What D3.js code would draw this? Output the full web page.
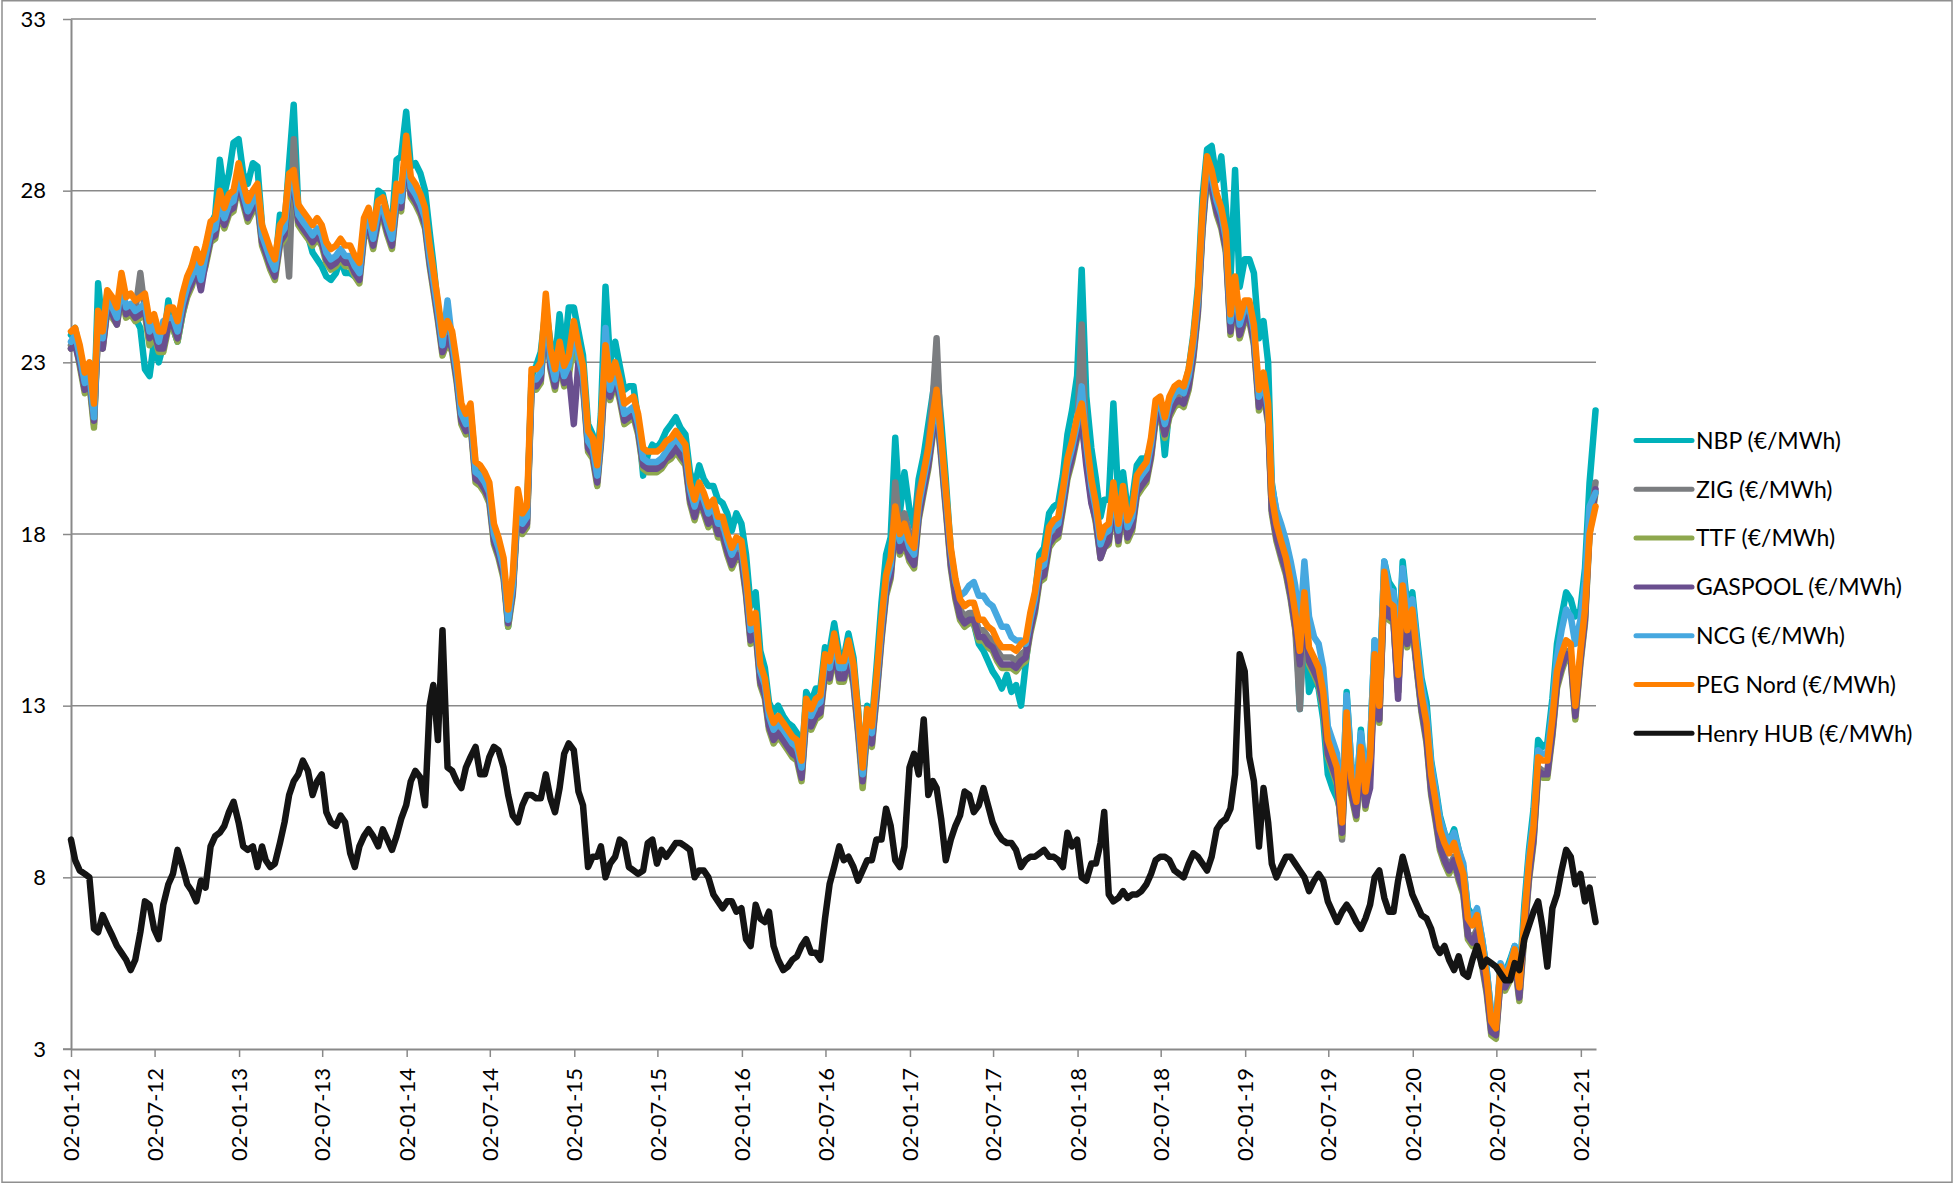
<!DOCTYPE html>
<html>
<head>
<meta charset="utf-8">
<script src="https://cdn.jsdelivr.net/npm/d3@7"></script>
<style>
  body { margin: 0; background: #fff; }
  svg text { font-family: Lato, "Open Sans", sans-serif; fill: #000; }
</style>
</head>
<body>
<div id="chart"></div>
<script>
const sampleYears = [2012, 2013, 2014, 2015, 2016, 2017, 2018, 2019, 2020];
const sampleDays = [1, 11, 21];
const lastDates = ["2021-01-01", "2021-01-11", "2021-01-21", "2021-02-03"];

const tickLabels = ["02-01-12", "02-07-12", "02-01-13", "02-07-13", "02-01-14", "02-07-14",
  "02-01-15", "02-07-15", "02-01-16", "02-07-16", "02-01-17", "02-07-17", "02-01-18",
  "02-07-18", "02-01-19", "02-07-19", "02-01-20", "02-07-20", "02-01-21"];
const yTicks = [3, 8, 13, 18, 23, 28, 33];

const seriesNames = ["NBP (€/MWh)", "ZIG (€/MWh)", "TTF (€/MWh)", "GASPOOL (€/MWh)",
  "NCG (€/MWh)", "PEG Nord (€/MWh)", "Henry HUB (€/MWh)"];
const seriesColors = ["#00b1ba", "#7b7d80", "#8ea84e", "#6a4f8f", "#46a8e0", "#ff8000", "#141414"];

const nbp = [
  23.8,24.0,23.3, 22.6,22.8,21.5, 25.3,24.0,25.0, 24.5,24.3,25.2, 24.5,24.6,24.3, 24.0,22.8,22.6, 23.6,23.0,23.5, 24.8,24.0,23.6, 24.4,25.0,25.8, 26.0,25.7,26.3, 27.0,27.3,28.9, 27.9,28.5,29.4,
  29.5,28.5,28.2, 28.8,28.7,27.0, 26.3,25.8,25.7, 27.3,27.0,28.8, 30.5,27.5,27.0, 26.7,26.2,26.0, 25.8,25.5,25.4, 25.6,26.0,25.6, 25.6,25.5,25.5, 27.0,27.4,26.6, 28.0,27.9,27.3, 27.0,28.9,29.0,
  30.3,28.7,28.8, 28.5,28.0,26.8, 25.9,24.6,23.9, 24.1,23.8,22.7, 21.7,21.4,21.6, 20.0,19.8,19.6, 19.3,18.1,17.6, 17.0,15.3,16.4, 18.9,18.3,18.6, 22.6,22.9,23.3, 24.6,23.6,23.0, 24.4,23.2,24.6,
  24.6,23.9,23.2, 21.2,20.9,20.1, 21.5,25.2,23.0, 23.6,22.9,22.2, 22.3,22.3,21.3, 19.7,20.3,20.6, 20.5,20.7,21.0, 21.2,21.4,21.1, 20.9,19.8,19.4, 20.0,19.6,19.4, 19.4,19.0,18.9, 18.6,18.1,18.6,
  18.3,17.4,15.9, 16.3,14.6,14.1, 13.1,12.8,13.0, 12.7,12.5,12.4, 12.2,11.3,13.4, 13.1,13.5,13.5, 14.7,14.6,15.4, 14.5,14.4,15.1, 14.4,12.9,11.0, 13.0,12.5,14.1, 16.0,17.4,17.9, 20.8,18.6,19.8,
  18.7,18.2,19.6, 20.3,21.2,22.1, 22.8,21.3,19.6, 17.5,16.5,15.8, 15.5,15.6,15.4, 14.8,14.6,14.3, 14.0,13.8,13.5, 13.9,13.4,13.6, 13.0,14.2,15.4, 16.2,17.4,17.6, 18.6,18.8,18.9, 19.7,20.9,21.6,
  22.6,25.7,22.0, 20.5,19.6,18.5, 19.0,19.0,21.8, 19.0,19.8,18.7, 19.0,20.0,20.2, 20.2,20.6,21.7, 21.8,20.3,21.7, 22.2,22.3,22.2, 22.8,23.8,25.2, 27.8,29.2,29.3, 28.3,29.0,27.5, 25.4,28.6,25.2,
  26.0,26.0,25.6, 23.7,24.2,23.0, 19.5,18.6,18.2, 17.6,16.9,16.0, 12.9,16.0,13.4, 13.8,13.5,12.6, 11.0,10.6,10.3, 9.8,13.4,11.3, 10.4,12.3,10.8, 11.8,14.9,13.4, 17.2,16.6,16.4, 14.4,17.2,15.9,
  16.3,15.0,13.8, 13.1,11.4,10.6, 9.8,9.3,9.0, 9.4,8.8,8.3, 7.1,6.9,7.0, 6.2,5.3,4.0, 3.8,5.3,5.2, 5.6,6.0,5.0, 7.2,8.8,10.0, 12.0,11.8,11.9, 13.2,14.8,15.6, 16.3,16.1,15.6,
  15.8,17.0,19.5,21.6
];

const zig = [
  23.5,23.7,23.0, 22.2,22.5,21.2, 24.0,23.5,24.6, 24.4,24.2,25.0, 24.5,24.6,24.5, 25.6,24.5,23.6, 24.0,23.4,23.4, 24.2,24.2,23.9, 24.6,25.1,25.4, 25.9,25.5,26.0, 26.6,26.8,27.5, 27.1,27.5,27.6,
  28.4,27.8,27.3, 27.6,27.7,26.6, 26.2,25.9,25.6, 26.6,27.0,25.5, 29.5,27.2,27.0, 26.8,26.6,26.8, 26.6,26.0,25.8, 26.0,26.2,26.0, 26.0,25.7,25.5, 26.8,27.1,26.5, 27.3,27.4,26.9, 26.5,27.8,27.6,
  29.0,28.0,27.8, 27.5,27.1,26.0, 25.3,24.4,23.4, 23.8,23.5,22.6, 21.4,21.1,21.4, 19.7,19.6,19.4, 19.1,17.9,17.5, 16.9,15.5,16.4, 18.9,18.2,18.4, 22.4,22.4,22.6, 24.6,23.0,22.4, 23.2,22.5,22.8,
  23.8,23.1,22.5, 20.6,20.4,19.6, 20.8,23.1,22.1, 22.6,22.1,21.4, 21.5,21.6,21.1, 20.1,20.0,20.0, 20.0,20.1,20.3, 20.4,20.6,20.4, 20.2,19.1,18.6, 19.1,18.8,18.4, 18.6,18.1,18.1, 17.6,17.2,17.5,
  17.4,16.4,15.0, 15.3,13.8,13.4, 12.5,12.1,12.3, 12.1,11.9,11.7, 11.6,11.0,12.8, 12.5,12.8,12.9, 14.1,13.9,14.7, 13.9,13.9,14.5, 13.8,12.4,10.8, 12.5,12.0,13.4, 15.1,16.4,16.9, 19.5,18.0,18.6,
  18.0,17.8,19.2, 19.8,20.6,22.0, 23.7,20.6,19.0, 17.3,16.4,15.8, 15.6,15.7,15.7, 15.2,15.2,15.0, 14.9,14.6,14.4, 14.4,14.4,14.3, 14.5,14.6,15.4, 16.0,16.9,17.0, 17.9,18.1,18.2, 19.0,19.9,20.4,
  21.0,24.1,20.4, 19.2,18.5,17.5, 17.8,17.9,19.1, 17.9,19.0,18.0, 18.3,19.3,19.5, 19.7,20.4,21.5, 21.6,21.0,21.6, 21.9,22.0,21.9, 22.4,23.3,24.6, 27.0,28.6,28.2, 27.5,27.1,26.4, 24.0,25.1,23.9,
  24.4,24.4,23.7, 21.8,22.3,21.4, 18.7,17.9,17.4, 16.9,16.2,15.3, 12.9,15.7,14.3, 14.0,13.7,13.0, 11.6,11.2,10.8, 9.1,12.4,10.5, 9.8,11.4,10.1, 11.1,14.1,12.6, 16.5,15.6,15.5, 13.4,16.1,14.8,
  15.4,14.1,12.9, 12.1,10.6,9.8, 9.0,8.6,8.3, 8.6,8.1,7.7, 6.4,6.2,6.5, 5.6,4.8,3.6, 3.5,5.1,4.8, 5.1,5.6,4.6, 6.5,8.1,9.2, 11.2,11.1,11.1, 12.3,13.7,14.2, 14.6,14.5,12.8,
  14.4,15.6,18.3,19.5
];

const ttf = [
  23.4,23.6,22.9, 22.1,22.4,21.1, 24.0,23.4,24.5, 24.3,24.1,24.9, 24.3,24.4,24.2, 24.3,24.4,23.5, 23.8,23.3,23.3, 24.0,24.0,23.6, 24.4,24.9,25.2, 25.7,25.4,25.8, 26.5,26.6,27.4, 26.9,27.3,27.4,
  28.2,27.6,27.1, 27.4,27.6,26.4, 26.1,25.7,25.4, 26.4,26.6,27.9, 28.0,27.0,26.8, 26.6,26.4,26.6, 26.4,25.9,25.7, 25.8,26.0,25.8, 25.8,25.5,25.3, 26.6,26.9,26.3, 27.1,27.2,26.7, 26.3,27.6,27.4,
  29.0,27.8,27.6, 27.3,26.9,25.8, 25.1,24.2,23.2, 23.6,23.3,22.4, 21.2,20.9,21.2, 19.5,19.4,19.2, 18.9,17.7,17.3, 16.7,15.3,16.2, 18.7,18.0,18.2, 22.2,22.2,22.4, 24.4,22.8,22.2, 23.0,22.3,22.6,
  23.6,22.9,22.3, 20.4,20.2,19.4, 20.6,22.9,21.9, 22.4,21.9,21.2, 21.3,21.4,20.9, 19.9,19.8,19.8, 19.8,19.9,20.1, 20.2,20.4,20.2, 20.0,18.9,18.4, 18.9,18.6,18.2, 18.4,17.9,17.9, 17.4,17.0,17.3,
  17.2,16.2,14.8, 15.1,13.6,13.2, 12.3,11.9,12.1, 11.9,11.7,11.5, 11.4,10.8,12.6, 12.3,12.6,12.7, 13.9,13.7,14.5, 13.7,13.7,14.3, 13.6,12.2,10.6, 12.3,11.8,13.2, 14.9,16.2,16.7, 18.2,17.4,17.7,
  17.2,17.0,18.4, 19.2,19.9,20.9, 21.6,20.2,18.7, 17.0,16.1,15.5, 15.3,15.4,15.4, 14.9,14.9,14.7, 14.6,14.3,14.1, 14.1,14.1,14.0, 14.2,14.3,15.1, 15.7,16.6,16.7, 17.6,17.8,17.9, 18.7,19.6,20.1,
  20.8,21.2,20.2, 19.0,18.3,17.3, 17.6,17.7,18.9, 17.7,18.8,17.8, 18.1,19.1,19.3, 19.5,20.2,21.3, 21.4,20.8,21.4, 21.7,21.8,21.7, 22.2,23.1,24.4, 26.8,28.4,28.0, 27.3,26.9,26.2, 23.8,24.9,23.7,
  24.2,24.2,23.5, 21.6,22.1,21.2, 18.6,17.8,17.3, 16.8,16.1,15.2, 14.2,15.8,14.2, 13.9,13.6,12.9, 11.5,11.1,10.7, 9.2,12.3,10.4, 9.7,11.3,10.0, 11.0,14.0,12.5, 16.4,15.5,15.4, 13.4,16.0,14.7,
  15.3,14.0,12.8, 11.9,10.4,9.6, 8.8,8.4,8.1, 8.4,7.9,7.5, 6.2,6.0,6.3, 5.4,4.6,3.4, 3.3,5.0,4.7, 5.0,5.5,4.4, 6.3,7.9,9.0, 11.0,10.9,10.9, 12.1,13.5,14.0, 14.4,14.3,12.6,
  14.2,15.4,18.0,19.2
];

const gaspool = [
  23.4,23.5,23.0, 22.2,22.5,21.3, 24.0,23.4,24.6, 24.4,24.1,25.1, 24.4,24.5,24.3, 24.4,24.5,23.7, 23.9,23.4,23.4, 24.1,24.1,23.7, 24.5,25.0,25.3, 25.7,25.1,25.9, 26.6,26.7,27.5, 27.0,27.4,27.5,
  28.3,27.7,27.2, 27.5,27.7,26.5, 26.2,25.8,25.5, 26.5,26.7,28.0, 28.1,27.1,26.9, 26.7,26.5,26.7, 26.5,26.0,25.8, 25.9,26.1,25.9, 25.9,25.6,25.4, 26.7,27.0,26.4, 27.2,27.3,26.8, 26.4,27.7,27.5,
  29.1,27.9,27.7, 27.4,27.0,25.9, 25.2,24.3,23.3, 23.7,23.4,22.5, 21.3,21.0,21.3, 19.6,19.5,19.3, 19.0,17.8,17.4, 16.8,15.4,16.3, 18.8,18.1,18.3, 22.3,22.3,22.5, 24.5,22.9,22.3, 23.1,22.4,22.7,
  21.2,23.0,22.4, 20.5,20.3,19.5, 20.7,23.0,22.0, 22.5,22.0,21.3, 21.4,21.5,21.0, 20.0,19.9,19.9, 19.9,20.0,20.2, 20.3,20.5,20.3, 20.1,19.0,18.5, 19.0,18.7,18.3, 18.5,18.0,18.0, 17.5,17.1,17.4,
  17.3,16.3,14.9, 15.2,13.7,13.3, 12.4,12.0,12.2, 12.0,11.8,11.6, 11.5,10.9,12.7, 12.4,12.7,12.8, 14.0,13.8,14.6, 13.8,13.8,14.4, 13.7,12.3,10.8, 12.4,11.9,13.3, 15.0,16.3,16.8, 18.3,17.5,17.8,
  17.3,17.1,18.5, 19.3,20.0,21.0, 21.7,20.3,18.8, 17.1,16.2,15.6, 15.4,15.5,15.5, 15.0,15.0,14.8, 14.7,14.4,14.2, 14.2,14.2,14.1, 14.3,14.4,15.2, 15.8,16.7,16.8, 17.7,17.9,18.0, 18.8,19.7,20.2,
  20.9,21.3,20.0, 18.9,18.4,17.3, 17.6,17.8,19.0, 17.8,18.9,17.9, 18.2,19.2,19.4, 19.6,20.3,21.4, 21.5,20.9,21.5, 21.8,21.9,21.8, 22.3,23.2,24.5, 26.9,28.5,28.1, 27.4,27.0,26.3, 23.9,25.0,23.8,
  24.3,24.3,23.6, 21.7,22.2,21.3, 18.7,17.9,17.4, 16.9,16.2,15.3, 14.2,15.8,14.3, 14.0,13.7,13.0, 11.6,11.2,10.8, 9.3,12.4,10.5, 9.8,11.4,10.1, 10.6,14.1,12.6, 16.5,15.6,15.5, 13.2,16.1,14.8,
  15.4,14.1,12.9, 12.0,10.5,9.7, 8.9,8.5,8.2, 8.5,8.0,7.6, 6.3,6.1,6.4, 5.5,4.7,3.5, 3.4,5.0,4.8, 5.1,5.6,4.5, 6.4,8.0,9.1, 11.1,11.0,11.0, 12.2,13.6,14.1, 14.5,14.4,12.7,
  14.3,15.5,18.1,19.3
];

const ncg = [
  23.6,23.8,23.2, 22.4,22.7,21.4, 24.2,23.7,24.8, 24.6,24.3,25.3, 24.6,24.7,24.5, 24.6,24.7,23.9, 24.1,23.6,24.2, 24.3,24.3,23.9, 24.7,25.2,25.5, 25.9,25.4,26.1, 26.8,26.9,27.7, 27.2,27.6,27.7,
  28.5,27.9,27.4, 27.7,27.9,26.7, 26.4,26.0,25.7, 26.7,26.9,28.2, 28.3,27.3,27.1, 26.9,26.7,26.9, 26.7,26.2,26.0, 26.1,26.3,26.1, 26.1,25.8,25.6, 26.9,27.2,26.6, 27.4,27.5,27.0, 26.6,27.9,27.7,
  29.3,28.1,27.9, 27.6,27.2,26.1, 25.4,24.5,23.5, 24.8,23.6,22.7, 21.5,21.2,21.5, 19.8,19.7,19.5, 19.2,18.0,17.6, 17.0,15.5,16.5, 19.0,18.3,18.5, 22.5,22.5,22.7, 24.7,23.1,22.5, 23.3,22.6,22.9,
  23.9,23.2,22.6, 20.7,20.5,19.7, 20.9,24.0,22.2, 22.7,22.2,21.5, 21.6,21.7,21.2, 20.2,20.1,20.1, 20.1,20.2,20.4, 20.6,20.8,20.6, 20.4,19.3,18.8, 19.3,19.0,18.6, 18.8,18.3,18.3, 17.8,17.4,17.7,
  17.6,16.6,15.2, 15.5,14.0,13.6, 12.7,12.3,12.5, 12.3,12.1,11.9, 11.8,11.2,13.0, 12.7,13.0,13.1, 14.3,14.1,14.9, 14.1,14.1,14.7, 14.0,12.6,11.0, 12.7,12.2,13.6, 15.3,16.6,17.1, 18.6,17.8,18.1,
  17.6,17.4,18.8, 19.6,20.3,21.3, 22.0,20.6,19.1, 17.5,16.6,16.2, 16.3,16.5,16.6, 16.2,16.2,16.0, 15.9,15.6,15.3, 15.3,15.0,14.9, 14.9,14.8,15.5, 16.1,17.0,17.1, 18.0,18.2,18.3, 19.1,20.0,20.5,
  21.2,22.3,20.6, 19.4,18.7,17.7, 18.0,18.1,19.3, 18.1,19.2,18.2, 18.5,19.5,19.7, 19.9,20.6,21.7, 21.8,21.2,21.8, 22.1,22.2,22.1, 22.6,23.5,24.8, 27.2,28.8,28.4, 27.7,27.3,26.6, 24.2,25.3,24.1,
  24.6,24.6,23.9, 22.0,22.5,21.6, 19.4,18.7,18.3, 17.8,17.2,16.5, 15.2,17.2,15.6, 15.0,14.8,14.1, 12.4,12.0,11.6, 9.9,13.3,11.3, 10.5,12.2,10.8, 11.8,14.9,13.3, 17.2,16.4,16.3, 14.2,17.0,15.7,
  16.1,14.8,13.6, 12.8,11.3,10.5, 9.7,9.3,9.0, 9.3,8.8,8.4, 7.0,6.8,7.1, 6.2,5.3,4.0, 3.7,5.5,5.2, 5.5,6.0,4.9, 6.9,8.6,9.7, 11.7,11.6,11.6, 12.9,14.4,15.2, 15.8,15.6,14.8,
  15.5,16.6,18.8,19.2
];

const pegNord = [
  23.9,24.0,23.5, 22.7,23.0,21.8, 24.5,23.9,25.1, 24.9,24.6,25.6, 24.9,25.0,24.8, 24.9,25.0,24.2, 24.4,23.9,23.9, 24.6,24.6,24.2, 25.0,25.5,25.8, 26.3,25.9,26.4, 27.1,27.2,28.0, 27.5,27.9,28.0,
  28.8,28.2,27.7, 28.0,28.2,27.0, 26.7,26.3,26.0, 27.0,27.2,28.5, 28.6,27.6,27.4, 27.2,27.0,27.2, 27.0,26.5,26.3, 26.4,26.6,26.4, 26.4,26.1,25.9, 27.2,27.5,26.9, 27.7,27.8,27.3, 26.9,28.2,28.0,
  29.6,28.4,28.2, 27.9,27.5,26.4, 25.7,24.8,23.8, 24.2,23.9,23.0, 21.8,21.5,21.8, 20.1,20.0,19.8, 19.5,18.3,17.9, 17.3,15.8,16.8, 19.3,18.6,18.8, 22.8,22.8,23.0, 25.0,23.4,22.8, 23.6,22.9,23.2,
  24.2,23.5,22.9, 21.0,20.8,20.0, 21.2,23.5,22.5, 23.0,22.5,21.8, 21.9,22.0,21.5, 20.5,20.4,20.4, 20.4,20.5,20.7, 20.8,21.0,20.8, 20.6,19.5,19.0, 19.5,19.2,18.8, 19.0,18.5,18.5, 18.0,17.6,17.9,
  17.8,16.8,15.4, 15.7,14.2,13.8, 12.9,12.5,12.7, 12.5,12.3,12.1, 12.0,11.4,13.2, 12.9,13.2,13.3, 14.5,14.3,15.1, 14.3,14.3,14.9, 14.2,12.8,11.2, 12.9,12.4,13.8, 15.5,16.8,17.3, 18.8,18.0,18.3,
  17.8,17.6,19.0, 19.8,20.5,21.5, 22.2,20.8,19.3, 17.6,16.7,16.1, 15.9,16.0,16.0, 15.5,15.5,15.3, 15.2,14.9,14.7, 14.7,14.7,14.6, 14.8,14.9,15.7, 16.3,17.2,17.3, 18.2,18.4,18.5, 19.3,20.2,20.7,
  21.4,21.8,20.8, 19.6,18.9,17.9, 18.2,18.3,19.5, 18.3,19.4,18.4, 18.7,19.7,19.9, 20.1,20.8,21.9, 22.0,21.4,22.0, 22.3,22.4,22.3, 22.8,23.7,25.0, 27.4,29.0,28.6, 27.9,27.5,26.8, 24.4,25.5,24.3,
  24.8,24.8,24.1, 22.2,22.7,21.8, 19.1,18.3,17.8, 17.3,16.6,15.7, 14.6,16.3,14.7, 14.4,14.1,13.4, 12.0,11.6,11.2, 9.6,12.8,10.9, 10.2,11.8,10.5, 11.5,14.5,13.0, 16.9,16.0,15.9, 13.9,16.5,15.2,
  15.8,14.5,13.3, 12.5,11.0,10.2, 9.4,9.0,8.7, 9.0,8.5,8.1, 6.8,6.6,6.9, 6.0,5.1,3.8, 3.6,5.4,5.1, 5.4,5.9,4.8, 6.8,8.4,9.5, 11.5,11.4,11.4, 12.6,14.0,14.5, 14.9,14.8,13.0,
  14.6,15.8,18.0,18.8
];

const henryHub = [
  9.1,8.5,8.2, 8.1,8.0,6.5, 6.4,6.9,6.6, 6.3,6.0,5.8, 5.6,5.3,5.6, 6.4,7.3,7.2, 6.5,6.2,7.2, 7.8,8.1,8.8, 8.3,7.8,7.6, 7.3,7.9,7.7, 8.9,9.2,9.3, 9.5,9.9,10.2,
  9.6,8.9,8.8, 8.9,8.3,8.9, 8.5,8.3,8.4, 9.0,9.6,10.4, 10.8,11.0,11.4, 11.1,10.4,10.8, 11.0,9.9,9.6, 9.5,9.8,9.6, 8.7,8.3,8.9, 9.2,9.4,9.2, 8.9,9.4,9.1, 8.8,9.2,9.7,
  10.1,10.8,11.1, 10.9,10.1,13.0, 13.6,12.0,15.2, 11.2,11.1,10.8, 10.6,11.2,11.5, 11.8,11.0,11.0, 11.5,11.8,11.7, 11.2,10.4,9.8, 9.6,10.1,10.4, 10.4,10.3,10.3, 11.0,10.3,9.9, 10.6,11.6,11.9,
  11.7,10.5,10.1, 8.3,8.6,8.6, 8.9,8.0,8.4, 8.6,9.1,9.0, 8.3,8.2,8.1, 8.2,9.0,9.1, 8.4,8.8,8.6, 8.8,9.0,9.0, 8.9,8.8,8.0, 8.2,8.2,8.0, 7.5,7.3,7.1, 7.3,7.3,7.0,
  7.1,6.2,6.0, 7.2,6.8,6.7, 7.0,6.0,5.6, 5.3,5.4,5.6, 5.7,6.0,6.2, 5.8,5.8,5.6, 6.8,7.8,8.3, 8.9,8.5,8.6, 8.3,7.9,8.2, 8.5,8.5,9.1, 9.1,10.0,9.5, 8.5,8.3,8.9,
  11.2,11.6,11.0, 12.6,10.4,10.8, 10.6,9.7,8.5, 9.1,9.5,9.8, 10.5,10.4,9.9, 10.1,10.6,10.1, 9.6,9.3,9.1, 9.0,9.0,8.8, 8.3,8.5,8.6, 8.6,8.7,8.8, 8.6,8.6,8.5, 8.3,9.3,8.9,
  9.1,8.0,7.9, 8.4,8.4,9.0, 9.9,7.5,7.3, 7.4,7.6,7.4, 7.5,7.5,7.6, 7.8,8.1,8.5, 8.6,8.6,8.5, 8.2,8.1,8.0, 8.4,8.7,8.6, 8.4,8.2,8.6, 9.4,9.6,9.7, 10.0,11.0,14.5,
  14.0,11.5,10.8, 8.9,10.6,9.6, 8.4,8.0,8.3, 8.6,8.6,8.4, 8.2,8.0,7.6, 7.9,8.1,7.9, 7.3,7.0,6.7, 7.0,7.2,7.0, 6.7,6.5,6.8, 7.2,8.0,8.2, 7.4,7.0,7.0, 7.9,8.6,8.1,
  7.5,7.2,6.9, 6.8,6.5,6.0, 5.8,6.0,5.6, 5.3,5.7,5.2, 5.1,5.6,6.0, 5.4,5.6,5.5, 5.4,5.2,5.0, 5.0,5.5,5.3, 6.2,6.6,7.0, 7.3,6.5,5.4, 7.1,7.5,8.2, 8.8,8.6,7.8,
  8.1,7.3,7.7,6.7
];

// ---- build the date list for the samples ----
const parseDay = d3.timeParse("%Y-%m-%d");
var dates = [];
sampleYears.forEach(function(yr) {
	for (var m = 0; m < 12; m++) {
		sampleDays.forEach(function(dd) { dates.push(new Date(yr, m, dd)); });
	}
});
dates[0] = new Date(2012, 0, 2); // the series starts on 2 Jan 2012
lastDates.forEach(function(s) { dates.push(parseDay(s)); });

const allSeries = [nbp, zig, ttf, gaspool, ncg, pegNord, henryHub];

// ---- chart ----
const width = 1954, height = 1184;
const plotLeft = 71, plotRight = 1596, plotTop = 19, plotBottom = 1049;
const gridColor = "#898989";

var svg = d3.select("#chart")
	.append("svg")
	.attr("width", width)
	.attr("height", height);

svg.append("rect")
	.attr("width", width).attr("height", height)
	.attr("fill", "#fff");

// outer chart border
svg.append("rect")
	.attr("x", 2).attr("y", 0.75)
	.attr("width", width - 4).attr("height", height - 2.5)
	.attr("fill", "none")
	.attr("stroke", "#8f8f8f")
	.attr("stroke-width", 1.5);

var x = d3.scaleTime()
	.domain([new Date(2012, 0, 2), new Date(2021, 1, 4)])
	.range([plotLeft, plotRight]);

var y = d3.scaleLinear()
	.domain([3, 33])
	.range([plotBottom, plotTop]);

// horizontal gridlines
svg.append("g")
	.selectAll("line")
	.data(yTicks.filter(function(v) { return v > 3; }))
	.enter()
	.append("line")
	.attr("x1", plotLeft).attr("x2", plotRight)
	.attr("y1", function(d) { return y(d); })
	.attr("y2", function(d) { return y(d); })
	.attr("stroke", gridColor)
	.attr("stroke-width", 1.5);

// y axis
var yAxis = svg.append("g")
	.attr("transform", "translate(" + plotLeft + ",0)")
	.call(d3.axisLeft(y).tickValues(yTicks).tickSize(8).tickSizeOuter(0).tickPadding(17));

// x axis
const parseTick = d3.timeParse("%d-%m-%y");
var xAxis = svg.append("g")
	.attr("transform", "translate(0," + plotBottom + ")")
	.call(d3.axisBottom(x)
		.tickValues(tickLabels.map(function(t) { return parseTick(t); }))
		.tickFormat(d3.timeFormat("%d-%m-%y"))
		.tickSize(8).tickSizeOuter(0));

xAxis.selectAll("text")
	.attr("transform", "rotate(-90)")
	.attr("text-anchor", "end")
	.attr("x", -19)
	.attr("y", 0)
	.attr("dy", "0.35em");

[yAxis, xAxis].forEach(function(ax) {
	ax.selectAll("path.domain").attr("stroke", gridColor).attr("stroke-width", 2);
	ax.selectAll(".tick line").attr("stroke", gridColor).attr("stroke-width", 1.5);
	ax.selectAll("text")
		.style("font-family", "Lato, 'Open Sans', sans-serif")
		.attr("font-size", 22)
		.attr("fill", "#000");
});
// extend the x axis line left to the y tick
svg.append("line")
	.attr("x1", plotLeft - 8).attr("x2", plotLeft)
	.attr("y1", plotBottom).attr("y2", plotBottom)
	.attr("stroke", gridColor).attr("stroke-width", 1.5);

// the series lines, NBP drawn first and Henry HUB last
var line = d3.line()
	.x(function(d, i) { return x(dates[i]); })
	.y(function(d) { return y(d); });

svg.append("g")
	.selectAll("path")
	.data(allSeries)
	.enter()
	.append("path")
	.attr("d", line)
	.attr("fill", "none")
	.attr("stroke", function(d, i) { return seriesColors[i]; })
	.attr("stroke-width", 6.5)
	.attr("stroke-linejoin", "round")
	.attr("stroke-linecap", "round");

// legend
var legend = svg.append("g")
	.selectAll("g")
	.data(seriesNames)
	.enter()
	.append("g")
	.attr("transform", function(d, i) { return "translate(1636," + (440.5 + i * 48.8) + ")"; });

legend.append("line")
	.attr("x1", 0).attr("x2", 56)
	.attr("stroke", function(d, i) { return seriesColors[i]; })
	.attr("stroke-width", 5)
	.attr("stroke-linecap", "round");

legend.append("text")
	.attr("x", 60)
	.attr("dy", "0.36em")
	.attr("font-size", 23)
	.text(function(d) { return d; });
</script>
</body>
</html>
